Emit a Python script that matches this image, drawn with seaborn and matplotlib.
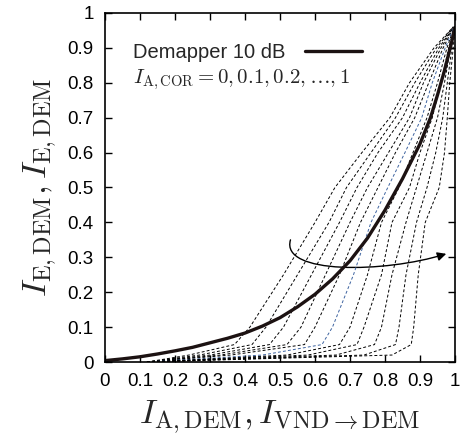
import matplotlib
matplotlib.use("Agg")
import matplotlib.pyplot as plt
from matplotlib.patches import FancyArrowPatch
from matplotlib.path import Path
import seaborn as sns
import pandas as pd

# demapper EXIT curve at 10 dB
dem_x = [0.0, 0.05, 0.1, 0.15, 0.2, 0.25, 0.3, 0.35, 0.4, 0.45, 0.5, 0.55, 0.6, 0.65,
         0.7, 0.75, 0.8, 0.85, 0.9, 0.93, 0.95, 0.97, 0.99, 1.0]
dem_y = [0.004, 0.009, 0.015, 0.023, 0.032, 0.042, 0.055, 0.068, 0.083, 0.103, 0.127,
         0.158, 0.194, 0.238, 0.29, 0.355, 0.435, 0.525, 0.625, 0.70, 0.765, 0.835, 0.915, 0.958]

# inverted VND curves, one per I_A,COR value (x read at shared y levels)
vnd_y = [0.0, 0.02, 0.05, 0.1, 0.25, 0.4, 0.5, 0.6, 0.7, 0.8, 0.9, 0.96]
ia_cor = [0.0, 0.1, 0.2, 0.3, 0.4, 0.5, 0.6, 0.7, 0.8, 0.9, 1.0]
vnd_x = [
    [0.12, 0.24, 0.37, 0.414, 0.51, 0.60, 0.657, 0.734, 0.814, 0.870, 0.940, 0.995],
    [0.12, 0.27, 0.42, 0.460, 0.55, 0.64, 0.690, 0.760, 0.830, 0.885, 0.947, 0.995],
    [0.12, 0.30, 0.47, 0.510, 0.59, 0.67, 0.720, 0.780, 0.850, 0.900, 0.954, 0.996],
    [0.12, 0.33, 0.52, 0.560, 0.63, 0.70, 0.750, 0.810, 0.870, 0.910, 0.960, 0.996],
    [0.12, 0.36, 0.57, 0.600, 0.67, 0.73, 0.780, 0.830, 0.885, 0.925, 0.966, 0.997],
    [0.12, 0.45, 0.62, 0.650, 0.71, 0.76, 0.808, 0.857, 0.905, 0.935, 0.972, 0.997],
    [0.12, 0.52, 0.67, 0.700, 0.75, 0.79, 0.840, 0.880, 0.920, 0.950, 0.977, 0.998],
    [0.12, 0.58, 0.72, 0.740, 0.79, 0.82, 0.870, 0.900, 0.935, 0.960, 0.982, 0.998],
    [0.12, 0.66, 0.77, 0.790, 0.82, 0.86, 0.890, 0.920, 0.950, 0.970, 0.987, 0.999],
    [0.12, 0.74, 0.83, 0.840, 0.86, 0.89, 0.920, 0.945, 0.965, 0.978, 0.991, 0.999],
    [0.12, 0.82, 0.875, 0.882, 0.895, 0.915, 0.955, 0.970, 0.978, 0.985, 0.995, 1.0],
]

ticks = [0, 0.1, 0.2, 0.3, 0.4, 0.5, 0.6, 0.7, 0.8, 0.9, 1]
tick_labels = ["0", "0.1", "0.2", "0.3", "0.4", "0.5", "0.6", "0.7", "0.8", "0.9", "1"]

sns.set_style("ticks")
plt.rcParams["font.family"] = ["Liberation Sans", "DejaVu Sans"]
plt.rcParams["mathtext.fontset"] = "cm"

fig = plt.figure(figsize=(4.67, 4.43), dpi=100)
ax = fig.add_axes([0.2248, 0.1828, 0.7495, 0.7879])

rows = []
for k, xs in enumerate(vnd_x):
    for x, y in zip(xs, vnd_y):
        rows.append({"curve": k, "x": x, "y": y})
vnd = pd.DataFrame(rows)

for k in range(len(ia_cor)):
    sub = vnd[vnd["curve"] == k]
    col = "#3d63a0" if k == 5 else "black"
    sns.lineplot(data=sub, x="x", y="y", sort=False, ax=ax, color=col,
                 lw=0.7, linestyle=(0, (3, 2.2)), estimator=None)

sns.lineplot(x=dem_x, y=dem_y, sort=False, ax=ax, color="#1c1212", lw=2.4,
             label="Demapper 10 dB", estimator=None)

# curved arrow showing increasing I_A,COR
arrow_path = Path([(0.53, 0.35), (0.50, 0.25), (0.80, 0.255), (0.975, 0.31)],
                  [Path.MOVETO, Path.CURVE4, Path.CURVE4, Path.CURVE4])
ax.add_patch(FancyArrowPatch(path=arrow_path, arrowstyle="-|>", mutation_scale=13,
                             color="black", lw=1.0))

ax.legend(loc="center left", bbox_to_anchor=(0.08, 0.888), frameon=False,
          markerfirst=False, handlelength=2.8, handletextpad=1.0,
          borderpad=0, borderaxespad=0, fontsize=14.5)
ax.text(0.08, 0.808, r"$I_{\mathrm{A,COR}} = 0, 0.1, 0.2, \ldots, 1$",
        transform=ax.transAxes, fontsize=15, va="center", ha="left")

ax.set_xlim(0, 1)
ax.set_ylim(0, 1)
ax.set_xticks(ticks)
ax.set_xticklabels(tick_labels)
ax.set_yticks(ticks)
ax.set_yticklabels(tick_labels)
ax.tick_params(direction="in", length=5, width=1, top=True, right=True,
               labelsize=13.5, pad=8, colors="black")
for s in ax.spines.values():
    s.set_linewidth(1.2)
    s.set_color("black")

ax.set_xlabel(r"$I_{\mathrm{A,DEM}}, I_{\mathrm{VND}\rightarrow\mathrm{DEM}}$", fontsize=25, labelpad=6)
ax.set_ylabel(r"$I_{\mathrm{E,DEM}}, I_{\mathrm{E,DEM}}$", fontsize=25, labelpad=6)

fig.savefig("out.png", dpi=100)
